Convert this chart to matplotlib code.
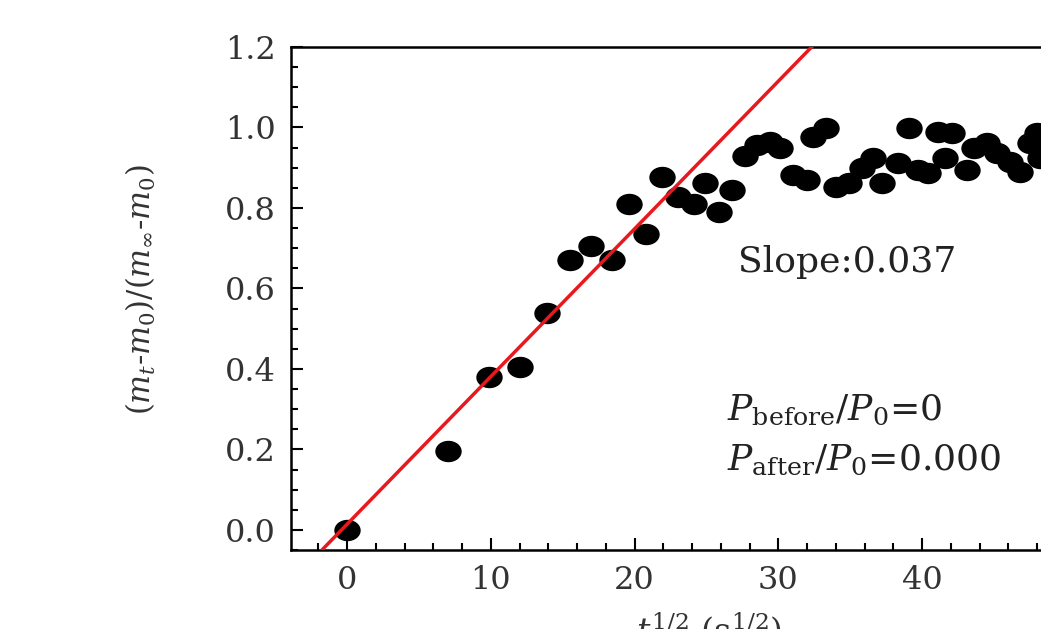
import numpy as np
import matplotlib
matplotlib.use("Agg")
import matplotlib.pyplot as plt
from matplotlib.path import Path
from matplotlib.transforms import Affine2D

# sqrt(time) vs normalised mass uptake
t_half = [0, 7.0, 9.9, 12.0, 13.9, 15.5, 17.0, 18.4, 19.6, 20.8, 21.9, 23.0,
          24.1, 24.9, 25.9, 26.8, 27.7, 28.5, 29.4, 30.1, 31.0, 32.0, 32.4,
          33.3, 34.0, 34.9, 35.8, 36.6, 37.2, 38.3, 39.1, 39.7, 40.4, 41.1,
          41.6, 42.1, 43.1, 43.6, 44.5, 45.2, 46.1, 46.8, 47.5, 48.0, 48.2]
mass_ratio = [0.0, 0.196, 0.38, 0.405, 0.54, 0.67, 0.705, 0.67, 0.81, 0.735,
              0.877, 0.827, 0.81, 0.862, 0.79, 0.845, 0.93, 0.957, 0.965,
              0.95, 0.882, 0.87, 0.976, 0.999, 0.852, 0.862, 0.9, 0.924,
              0.862, 0.912, 0.999, 0.894, 0.887, 0.989, 0.924, 0.986, 0.894,
              0.949, 0.961, 0.937, 0.914, 0.889, 0.961, 0.986, 0.924]

fit_slope = 0.0367
fit_intercept = 0.014

x_ticks = [0, 10, 20, 30, 40, 50]
y_ticks = [0.0, 0.2, 0.4, 0.6, 0.8, 1.0, 1.2]

plt.rcParams['font.family'] = 'DejaVu Serif'
plt.rcParams['mathtext.fontset'] = 'dejavuserif'

fig = plt.figure(figsize=(10.41, 6.29), dpi=100)
ax = fig.add_axes([0.2795, 0.1256, 0.772, 0.7997])

# slightly wide ellipse marker, like the source image
ell = Path.unit_circle().transformed(Affine2D().scale(1.25, 1.0))
ax.plot(t_half, mass_ratio, linestyle='none', marker=ell, markersize=18,
        color='black', zorder=3)
ax.axline((0, fit_intercept), slope=fit_slope, color='#e8191e', lw=2.5,
          zorder=4)

ax.set_xlim(-3.9, 52)
ax.set_ylim(-0.05, 1.2)
ax.set_xticks(x_ticks)
ax.set_yticks(y_ticks)
ax.set_xticks(np.arange(-2, 52, 2), minor=True)
ax.set_yticks(np.arange(-0.05, 1.21, 0.05), minor=True)
ax.set_yticklabels([f"{v:.1f}" for v in y_ticks])
ax.tick_params(which='both', direction='in', width=1.5, labelsize=23,
               colors='black', labelcolor='#333333')
ax.tick_params(which='major', length=8.5, pad=11)
ax.tick_params(which='minor', length=5)
for s in ax.spines.values():
    s.set_linewidth(1.8)

ax.set_ylabel(r'$(m_t$-$m_0)/(m_\infty$-$m_0)$', fontsize=22, color='#333333')
ax.yaxis.set_label_coords(-0.165, 0.517)
ax.set_xlabel(r'$t^{1/2}$ (s$^{1/2}$)', fontsize=24, color='#333333')
ax.xaxis.set_label_coords(0.52, -0.12)

ax.text(27.2, 0.666, 'Slope:0.037', fontsize=26, va='center', color='#222222')
ax.text(26.4, 0.298, r'$P_{\rm before}/P_0$=0', fontsize=26, va='center',
        color='#222222')
ax.text(26.4, 0.174, r'$P_{\rm after}/P_0$=0.000', fontsize=26, va='center',
        color='#222222')

fig.savefig('out.png', dpi=100)
